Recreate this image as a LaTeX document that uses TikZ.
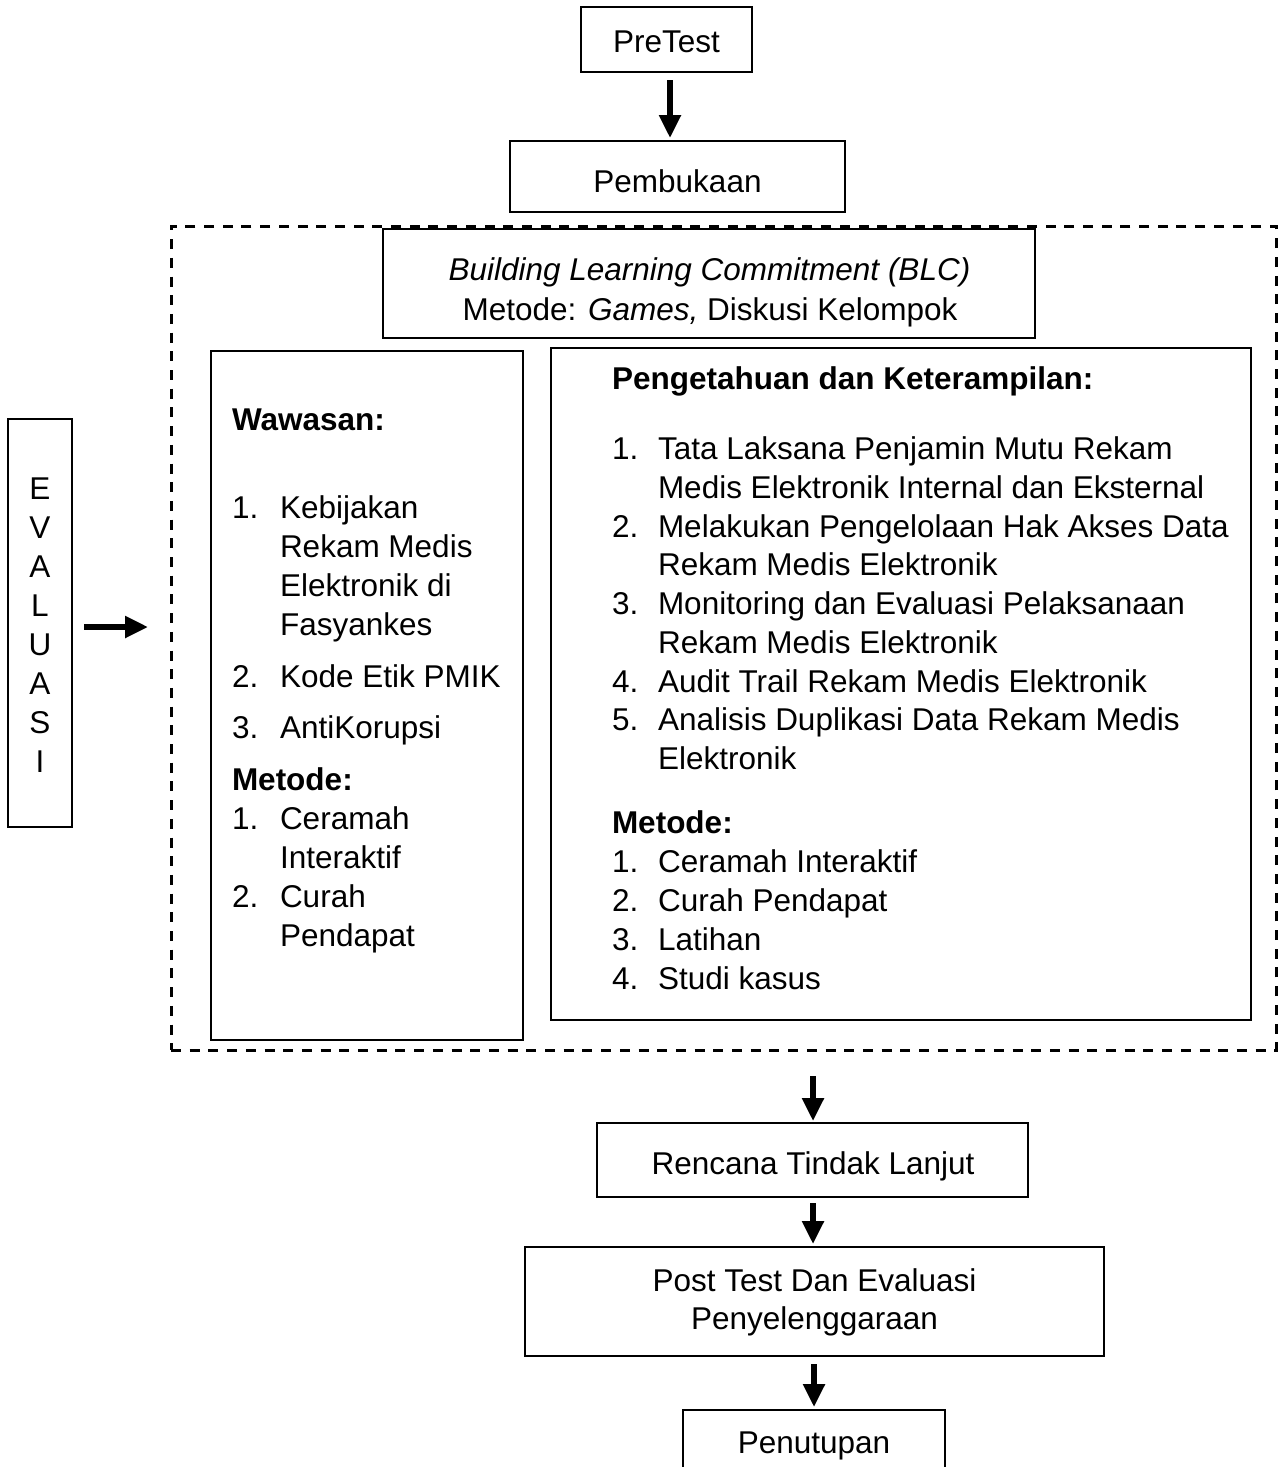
\documentclass[tikz,border=0pt]{standalone}
\usepackage{fontspec}
\setmainfont{Liberation Sans}
\usetikzlibrary{arrows.meta,calc}
\newcommand\fsz{\fontsize{31.5}{39}\selectfont}
\begin{document}
\begin{tikzpicture}[x=1pt,y=-1pt,
  box/.style={draw, line width=2.7pt, inner sep=0pt, outer sep=0pt},
  dbox/.style={draw, line width=3pt, dash pattern=on 10pt off 8.7pt, inner sep=0pt, outer sep=0pt},
  t/.style={anchor=base, inner sep=0pt, outer sep=0pt, font=\fsz},
  tl/.style={anchor=base west, inner sep=0pt, outer sep=0pt, font=\fsz},
  arr/.style={line width=5.5pt, -{Triangle[length=23pt,width=21pt]}}]
\useasboundingbox (0,0) rectangle (1278,1467);
\clip (0,0) rectangle (1278,1467);

% boxes
\node[box, minimum width=171pt, minimum height=65pt] (pre) at (666.5,39.5) {};
\node[box, minimum width=335pt, minimum height=71pt] (pemb) at (677.5,176.5) {};
\node[dbox, minimum width=1105.5pt, minimum height=824pt] (outer) at (723.75,638) {};
\node[box, minimum width=652pt, minimum height=109pt] (blc) at (709,283.5) {};
\node[box, minimum width=312pt, minimum height=689pt] (wbox) at (367,695.5) {};
\node[box, minimum width=700pt, minimum height=672pt] (pbox) at (901,684) {};
\node[box, minimum width=64pt, minimum height=408pt] (eval) at (40,623) {};
\node[box, minimum width=431pt, minimum height=74pt] (rtl) at (812.5,1160) {};
\node[box, minimum width=579pt, minimum height=109pt] (post) at (814.5,1301.5) {};
\node[box, minimum width=262pt, minimum height=80pt] (pen) at (814,1450) {};

% single texts
\node[t] (preT) at (666.5,52) {PreTest};
\node[t] (pembT) at (677.5,192) {Pembukaan};
\node[t] (blcA) at (709.5,280) {\itshape Building Learning Commitment (BLC)};
\node[t] (blcB) at (710,320) {Metode: \textit{Games,} Diskusi Kelompok};
\node[t] (rtlT) at (813,1174) {Rencana Tindak Lanjut};
\node[t] (postA) at (814.5,1291) {Post Test Dan Evaluasi};
\node[t] (postB) at (814.5,1329) {Penyelenggaraan};
\node[t] (penT) at (814,1453) {Penutupan};

% EVALUASI
\foreach \l [count=\i from 0] in {E,V,A,L,U,A,S,I}
  \node[t] (ev\i) at (40,499+39*\i) {\l};

% Wawasan box
\node[tl] (wh) at (232,430) {\bfseries Wawasan:};
\node[tl] (w1n) at (232,518) {1.};
\node[tl] (w1a) at (280,518) {Kebijakan};
\node[tl] (w1b) at (280,557) {Rekam Medis};
\node[tl] (w1c) at (280,596) {Elektronik di};
\node[tl] (w1d) at (280,635) {Fasyankes};
\node[tl] (w2n) at (232,687) {2.};
\node[tl] (w2a) at (280,687) {Kode Etik PMIK};
\node[tl] (w3n) at (232,738) {3.};
\node[tl] (w3a) at (280,738) {AntiKorupsi};
\node[tl] (wm) at (232,790) {\bfseries Metode:};
\node[tl] (wm1n) at (232,829) {1.};
\node[tl] (wm1a) at (280,829) {Ceramah};
\node[tl] (wm1b) at (280,868) {Interaktif};
\node[tl] (wm2n) at (232,907) {2.};
\node[tl] (wm2a) at (280,907) {Curah};
\node[tl] (wm2b) at (280,946) {Pendapat};

% Pengetahuan box
\node[tl] (ph) at (612,389) {\bfseries Pengetahuan dan Keterampilan:};
\node[tl] (p1n) at (612,459) {1.};
\node[tl] (p1a) at (658,459) {Tata Laksana Penjamin Mutu Rekam};
\node[tl] (p1b) at (658,498) {Medis Elektronik Internal dan Eksternal};
\node[tl] (p2n) at (612,537) {2.};
\node[tl] (p2a) at (658,537) {Melakukan Pengelolaan Hak Akses Data};
\node[tl] (p2b) at (658,575) {Rekam Medis Elektronik};
\node[tl] (p3n) at (612,614) {3.};
\node[tl] (p3a) at (658,614) {Monitoring dan Evaluasi Pelaksanaan};
\node[tl] (p3b) at (658,653) {Rekam Medis Elektronik};
\node[tl] (p4n) at (612,692) {4.};
\node[tl] (p4a) at (658,692) {Audit Trail Rekam Medis Elektronik};
\node[tl] (p5n) at (612,730) {5.};
\node[tl] (p5a) at (658,730) {Analisis Duplikasi Data Rekam Medis};
\node[tl] (p5b) at (658,769) {Elektronik};
\node[tl] (pm) at (612,833) {\bfseries Metode:};
\node[tl] (pm1n) at (612,872) {1.};
\node[tl] (pm1a) at (658,872) {Ceramah Interaktif};
\node[tl] (pm2n) at (612,911) {2.};
\node[tl] (pm2a) at (658,911) {Curah Pendapat};
\node[tl] (pm3n) at (612,950) {3.};
\node[tl] (pm3a) at (658,950) {Latihan};
\node[tl] (pm4n) at (612,989) {4.};
\node[tl] (pm4a) at (658,989) {Studi kasus};

% arrows
\draw[arr] ($(pre.south)+(3.5,8)$) -- ($(pemb.north)+(-7.5,-3)$);
\draw[arr] ($(eval.east)+(12,4)$) -- ($(outer.west)+(-23,-11)$);
\draw[arr] ($(outer.south)+(89.25,26)$) -- ($(rtl.north)+(0.5,-2)$);
\draw[arr] ($(rtl.south)+(0.5,6)$) -- ($(post.north)+(-1.5,-3)$);
\draw[arr] ($(post.south)+(-0.5,8)$) -- ($(pen.north)+(0,-3)$);
\end{tikzpicture}
\end{document}
